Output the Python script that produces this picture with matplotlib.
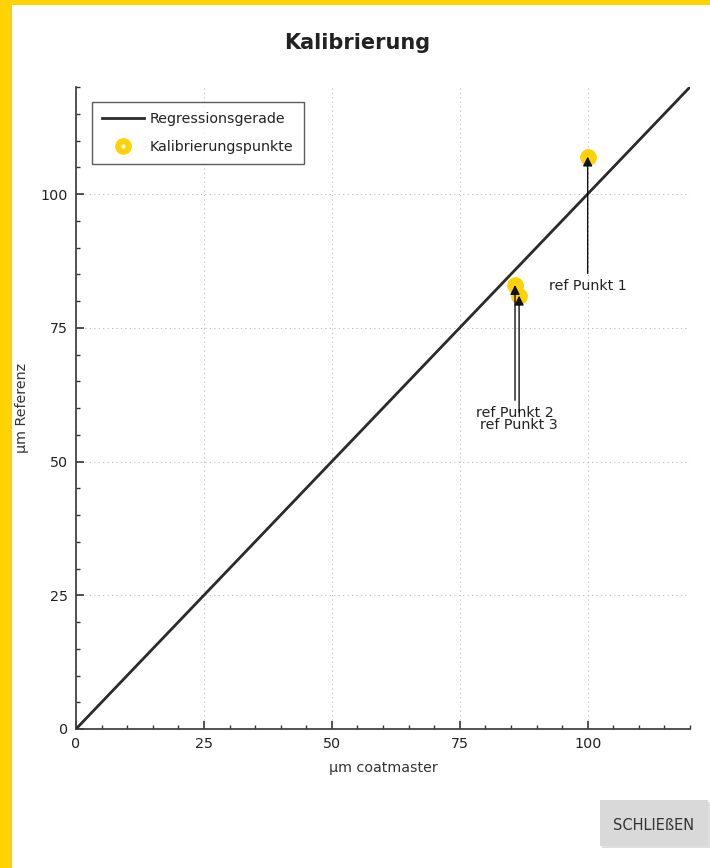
import matplotlib
matplotlib.use("Agg")
import matplotlib.pyplot as plt
from matplotlib.patches import Rectangle
from matplotlib.lines import Line2D
from matplotlib.ticker import MultipleLocator

# Data
reg_x = [0, 120]
reg_y = [0, 120]
pts_x = [100, 85.8, 86.6]
pts_y = [107, 83, 81]
pt_labels = ["ref Punkt 1", "ref Punkt 2", "ref Punkt 3"]
label_x = [100, 85.8, 86.6]
label_y = [82.8, 59.1, 56.8]

title = "Kalibrierung"
xlabel = "µm coatmaster"
ylabel = "µm Referenz"

plt.rcParams['font.family'] = ['DejaVu Sans']
YELLOW = "#FFD200"
FS = 10.3

fig = plt.figure(figsize=(7.10, 8.68), dpi=100)
fig.patch.set_facecolor("white")
W, H = 710, 868
fig.patches.append(Rectangle((0, 0), 12 / W, 1, transform=fig.transFigure,
                             facecolor=YELLOW, edgecolor="none", zorder=-1))
fig.patches.append(Rectangle((0, 1 - 5 / H), 1, 5 / H, transform=fig.transFigure,
                             facecolor=YELLOW, edgecolor="none", zorder=-1))

ax = fig.add_axes([76 / W, (H - 729) / H, (690 - 76) / W, (729 - 87) / H])
ax.set_xlim(0, 120)
ax.set_ylim(0, 120)
for s in ["top", "right"]:
    ax.spines[s].set_visible(False)
for s in ["left", "bottom"]:
    ax.spines[s].set_color("#444444")
    ax.spines[s].set_linewidth(1.3)

ax.xaxis.set_major_locator(MultipleLocator(25))
ax.yaxis.set_major_locator(MultipleLocator(25))
ax.xaxis.set_minor_locator(MultipleLocator(5))
ax.yaxis.set_minor_locator(MultipleLocator(5))
ax.tick_params(which="major", direction="in", length=6, width=1.2, color="#333333",
               labelsize=FS, labelcolor="#222222", pad=6)
ax.tick_params(which="minor", direction="in", length=3, width=1.0, color="#333333")
ax.grid(True, which="major", linestyle=(0, (1, 3)), color="#bbbbbb", linewidth=0.8)

ax.plot(reg_x, reg_y, color="#2a2a2a", linewidth=2, label="Regressionsgerade", zorder=3)
ax.plot(pts_x, pts_y, linestyle="none", marker="o", markersize=11,
        color=YELLOW, markeredgecolor=YELLOW, zorder=4)

for lx, ly, px, py, t in zip(label_x, label_y, pts_x, pts_y, pt_labels):
    ax.annotate(t, xy=(px, py), xytext=(lx, ly), ha="center", va="center",
                fontsize=FS, color="#222222",
                arrowprops=dict(arrowstyle="-|>", color="#111111", lw=1.0,
                                shrinkA=2, shrinkB=0, mutation_scale=14),
                zorder=5)

fig.text(357 / W, 1 - 43 / H, title, ha="center", va="center",
         fontsize=15, fontweight="bold", color="#222222")
ax.set_xlabel(xlabel, fontsize=FS, color="#333333")
ax.xaxis.set_label_coords((383 - 76) / 614, (729 - 768) / 642)
ax.xaxis.label.set_va("center")
ax.set_ylabel(ylabel, fontsize=FS, color="#333333")
ax.yaxis.set_label_coords((22 - 76) / 614, 0.5)
ax.yaxis.label.set_va("center")

h_line = Line2D([], [], color="#2a2a2a", linewidth=2)
h_pt = Line2D([], [], linestyle="none", marker="o", markersize=11, color=YELLOW)
h_dot = Line2D([], [], linestyle="none", marker="o", markersize=2, color="white")
leg = ax.legend([h_line, (h_pt, h_dot)], ["Regressionsgerade", "Kalibrierungspunkte"],
                loc="upper left", bbox_to_anchor=(16 / 614, 1 - 15 / 642),
                fontsize=FS, frameon=True, fancybox=False, borderpad=0.7,
                handlelength=2.9, handletextpad=0.45, labelspacing=0.95, borderaxespad=0)
leg.get_frame().set_edgecolor("#333333")
leg.get_frame().set_linewidth(1.0)
for t in leg.get_texts():
    t.set_color("#222222")

# Button
fig.patches.append(Rectangle((602 / W, (H - 848) / H), 108 / W, 46 / H,
                             transform=fig.transFigure, facecolor="#c8c8c8",
                             edgecolor="none", zorder=1, alpha=0.6))
fig.patches.append(Rectangle((600 / W, (H - 846) / H), 108 / W, 46 / H,
                             transform=fig.transFigure, facecolor="#d9d9d9",
                             edgecolor="none", zorder=2))
fig.text(654 / W, (H - 825) / H, "SCHLIEßEN", ha="center", va="center",
         fontsize=10.5, color="#333333", zorder=3)

fig.savefig("out.png", dpi=100)
